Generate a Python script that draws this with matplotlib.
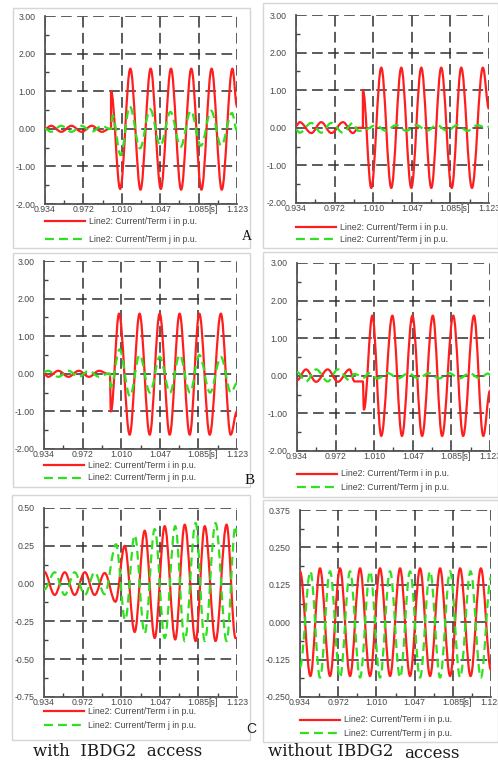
import numpy as np
import matplotlib
matplotlib.use("Agg")
import matplotlib.pyplot as plt
from matplotlib.path import Path
from matplotlib.patches import PathPatch, Rectangle
from matplotlib.lines import Line2D

W, H = 498, 762

# time axis (s)
x_ticks = [0.934, 0.9718, 1.0096, 1.0474, 1.0852, 1.123]
x_labels = ["0.934", "0.972", "1.010", "1.047", "1.085", "1.123"]
x_minor = [0.9529, 0.9907, 1.0285, 1.0663, 1.1041]

# y scales
big_ticks = [-2.0, -1.0, 0.0, 1.0, 2.0, 3.0]
big_labels = ["-2.00", "-1.00", "0.00", "1.00", "2.00", "3.00"]
big_minor = [-1.5, -0.5, 0.5, 1.5, 2.5]
c_ticks = [-0.75, -0.5, -0.25, 0.0, 0.25, 0.5]
c_labels = ["-0.75", "-0.50", "-0.25", "0.00", "0.25", "0.50"]
c_minor = [-0.625, -0.375, -0.125, 0.125, 0.375]
cp_ticks = [-0.25, -0.125, 0.0, 0.125, 0.25, 0.375]
cp_labels = ["-0.250", "-0.125", "0.000", "0.125", "0.250", "0.375"]
cp_minor = [-0.1875, -0.0625, 0.0625, 0.1875, 0.3125]

# waveform turning points (time, p.u.) for current at term i (red) and term j (green)
a_red_t = [0.934, 0.940, 0.950, 0.960, 0.970, 0.980, 0.990, 0.9975, 0.999, 0.999,
           1.008, 1.018, 1.028, 1.038, 1.048, 1.058, 1.068, 1.078, 1.088, 1.098, 1.108, 1.1185, 1.123]
a_red_v = [0.0, 0.08, -0.08, 0.08, -0.08, 0.08, -0.08, 0.0, 0.0, 1.0,
           -1.6, 1.6, -1.62, 1.6, -1.6, 1.6, -1.62, 1.6, -1.62, 1.6, -1.62, 1.6, 0.6]
a_grn_t = [0.934, 0.940, 0.950, 0.960, 0.970, 0.980, 0.990, 0.9975, 0.999, 1.0005,
           1.0085, 1.0175, 1.0275, 1.0375, 1.0475, 1.0575, 1.0675, 1.0775, 1.0875, 1.0975, 1.1075, 1.118, 1.123]
a_grn_v = [0.0, -0.08, 0.08, -0.08, 0.08, -0.08, 0.08, 0.0, 0.0, 0.35,
           -0.70, 0.60, -0.52, 0.52, -0.45, 0.45, -0.48, 0.48, -0.45, 0.48, -0.45, 0.42, -0.05]

ap_red_t = [0.934, 0.9376, 0.9490, 0.9587, 0.9686, 0.980, 0.9898, 0.995, 0.9995, 0.9995,
            1.0077, 1.0175, 1.0273, 1.0371, 1.0469, 1.0567, 1.0665, 1.0762, 1.0865, 1.0958, 1.1063, 1.1170, 1.123]
ap_red_v = [0.05, 0.15, -0.14, 0.15, -0.14, 0.15, -0.14, 0.0, 0.0, 1.0,
            -1.6, 1.6, -1.6, 1.6, -1.6, 1.6, -1.6, 1.6, -1.6, 1.6, -1.6, 1.6, 0.5]
ap_grn_t = [0.934, 0.9376, 0.9490, 0.9587, 0.9686, 0.980, 0.9898, 0.995, 0.9995, 1.003,
            1.012, 1.022, 1.032, 1.042, 1.052, 1.062, 1.072, 1.082, 1.092, 1.102, 1.112, 1.120, 1.123]
ap_grn_v = [-0.05, -0.13, 0.13, -0.13, 0.13, -0.13, 0.13, -0.08, -0.08, -0.03,
            0.07, -0.08, 0.07, -0.08, 0.07, -0.08, 0.07, -0.08, 0.07, -0.08, 0.07, 0.0, 0.03]

b_red_t = [0.934, 0.938, 0.948, 0.958, 0.968, 0.978, 0.988, 0.9965, 0.9985, 0.9995,
           1.0075, 1.0179, 1.0276, 1.0375, 1.0473, 1.0571, 1.0668, 1.0767, 1.0861, 1.0963, 1.1072, 1.1168, 1.123]
b_red_v = [0.0, -0.08, 0.08, -0.08, 0.08, -0.08, 0.08, 0.0, 0.0, -1.0,
           1.6, -1.62, 1.6, -1.62, 1.6, -1.62, 1.6, -1.62, 1.6, -1.62, 1.6, -1.62, -1.0]
b_grn_t = [0.934, 0.938, 0.948, 0.958, 0.968, 0.978, 0.988, 0.9965, 0.9985, 0.9995,
           1.0080, 1.0182, 1.0276, 1.0378, 1.0473, 1.0574, 1.0668, 1.0770, 1.0861, 1.0966, 1.1072, 1.1171, 1.123]
b_grn_v = [0.05, 0.08, -0.08, 0.08, -0.08, 0.08, -0.08, 0.0, 0.0, -0.35,
           0.65, -0.6, 0.5, -0.5, 0.45, -0.5, 0.5, -0.5, 0.5, -0.5, 0.45, -0.5, -0.25]

bp_red_t = [0.934, 0.9428, 0.9527, 0.9641, 0.974, 0.9855, 0.9903, 0.9985, 0.9995,
            1.0078, 1.0165, 1.0274, 1.0368, 1.0470, 1.0565, 1.0670, 1.0761, 1.0870, 1.0967, 1.1073, 1.1164, 1.123]
bp_red_v = [-0.12, 0.17, -0.16, 0.17, -0.16, 0.17, -0.15, -0.15, -0.9,
            1.6, -1.6, 1.6, -1.6, 1.6, -1.6, 1.6, -1.6, 1.6, -1.6, 1.6, -1.6, -0.4]
bp_grn_t = [0.934, 0.9428, 0.9527, 0.9641, 0.974, 0.9855, 0.9903, 0.9995, 1.004, 1.013,
            1.023, 1.033, 1.043, 1.053, 1.063, 1.073, 1.083, 1.093, 1.103, 1.113, 1.121, 1.123]
bp_grn_v = [0.1, -0.15, 0.17, -0.15, 0.17, -0.12, 0.05, -0.05, 0.07, -0.07,
            0.07, -0.07, 0.07, -0.07, 0.07, -0.07, 0.07, -0.07, 0.07, -0.07, 0.06, 0.03]

c_red_t = [0.934, 0.9445, 0.9543, 0.964, 0.974, 0.9836, 0.9934, 1.004, 1.013, 1.0228,
           1.0326, 1.0424, 1.0522, 1.0625, 1.0718, 1.0825, 1.0914, 1.1020, 1.1128, 1.1215, 1.123]
c_red_v = [0.08, -0.075, 0.075, -0.075, 0.075, -0.075, 0.07, -0.12, 0.25, -0.32,
           0.35, -0.36, 0.38, -0.37, 0.39, -0.38, 0.38, -0.38, 0.39, -0.36, -0.36]
c_grn_t = [0.934, 0.9445, 0.9543, 0.964, 0.974, 0.9836, 0.9934, 1.0045, 1.0135, 1.0228,
           1.0326, 1.0424, 1.0522, 1.0625, 1.0718, 1.0825, 1.0914, 1.1020, 1.1128, 1.1215, 1.123]
c_grn_v = [-0.04, 0.075, -0.075, 0.075, -0.075, 0.075, -0.07, 0.26, -0.24, 0.32,
           -0.33, 0.36, -0.36, 0.38, -0.38, 0.40, -0.38, 0.40, -0.38, 0.38, 0.33]

cp_red_t = [0.934, 0.9443, 0.9538, 0.9637, 0.9736, 0.9835, 0.9934, 1.0033, 1.0132, 1.0231,
            1.0330, 1.0429, 1.0528, 1.0627, 1.0726, 1.0825, 1.0924, 1.1028, 1.1130, 1.123]
cp_red_v = [0.17, -0.18, 0.18, -0.18, 0.18, -0.18, 0.18, -0.18, 0.18, -0.18,
            0.18, -0.18, 0.18, -0.18, 0.18, -0.18, 0.18, -0.18, 0.18, -0.16]
cp_grn_t = [0.934, 0.9443, 0.9538, 0.9637, 0.9736, 0.9835, 0.9934, 1.0033, 1.0132, 1.0231,
            1.0330, 1.0429, 1.0528, 1.0627, 1.0726, 1.0825, 1.0924, 1.1028, 1.1130, 1.123]
cp_grn_v = [-0.15, 0.17, -0.185, 0.17, -0.185, 0.17, -0.185, 0.17, -0.185, 0.17,
            -0.185, 0.17, -0.185, 0.17, -0.185, 0.17, -0.185, 0.17, -0.185, 0.15]

RED = "#ff1e1e"
GREEN = "#2ee01e"
GRID = "#2f2f2f"
TXT = "#474747"
LABEL_FONT = ["Liberation Sans", "DejaVu Sans"]
SERIF = ["DejaVu Serif", "Liberation Serif"]
FS = 6.3

plt.rcParams["font.family"] = LABEL_FONT
fig = plt.figure(figsize=(W / 100, H / 100), dpi=100)
fig.patch.set_facecolor("white")


def fx(px):
    return px / W


def fy(py):
    return 1 - py / H


def wave_path(ts, vs):
    # smooth half-wave between successive turning points, horizontal tangents at each
    verts = [(ts[0], vs[0])]
    codes = [Path.MOVETO]
    for i in range(1, len(ts)):
        t0, t1, v0, v1 = ts[i - 1], ts[i], vs[i - 1], vs[i]
        h = t1 - t0
        verts += [(t0 + 0.363 * h, v0), (t1 - 0.363 * h, v1), (t1, v1)]
        codes += [Path.CURVE4] * 3
    return Path(verts, codes)


def panel(box, frame, legend_y, red_t, red_v, grn_t, grn_v, yt, yl, ym):
    left, top, right, bottom = box
    fl, ft, fr, fb = frame
    fig.add_artist(Rectangle((fx(fl), fy(fb)), fx(fr - fl), (fb - ft) / H,
                             transform=fig.transFigure, fill=False,
                             ec="#d6d6d6", lw=1.0))
    ax = fig.add_axes([fx(left), fy(bottom), fx(right - left), (bottom - top) / H])
    ax.set_xlim(x_ticks[0], x_ticks[-1])
    ax.set_ylim(yt[0], yt[-1])

    ax.add_patch(PathPatch(wave_path(red_t, red_v), fill=False, ec=RED, lw=1.6,
                           joinstyle="round", zorder=3))
    ax.add_patch(PathPatch(wave_path(grn_t, grn_v), fill=False, ec=GREEN, lw=1.6,
                           linestyle=(0, (4.0, 2.3)), zorder=4))

    ax.set_xticks(x_ticks)
    ax.set_xticklabels(x_labels)
    ax.set_xticks(x_minor, minor=True)
    ax.set_yticks(yt)
    ax.set_yticklabels(yl)
    ax.set_yticks(ym, minor=True)
    ax.tick_params(which="major", length=0, labelsize=FS, labelcolor=TXT)
    ax.tick_params(axis="y", which="major", pad=7)
    ax.tick_params(axis="x", which="major", pad=1)
    ax.tick_params(which="minor", direction="in", length=3, width=1.0, color="#444444")
    ax.grid(True, which="major", color=GRID, lw=1.1, linestyle=(0, (7, 3.5)))
    for s in ("left", "bottom"):
        ax.spines[s].set_color("#555555")
        ax.spines[s].set_linewidth(1.3)
    for s in ("top", "right"):
        ax.spines[s].set_visible(False)

    ax.annotate("[s]", xy=(1.0995, 0), xycoords=("data", "axes fraction"),
                xytext=(0, -0.6), textcoords="offset points", ha="center", va="top",
                fontsize=FS, color=TXT)

    # legend rows
    x0 = left
    for (ly, col, ls, lab) in ((legend_y[0], RED, "-", "Line2: Current/Term i in p.u."),
                               (legend_y[1], GREEN, (0, (4.0, 2.3)), "Line2: Current/Term j in p.u.")):
        fig.add_artist(Line2D([fx(x0), fx(x0 + 40)], [fy(ly), fy(ly)], transform=fig.transFigure,
                              color=col, lw=1.6, linestyle=ls))
        fig.text(fx(x0 + 44), fy(ly), lab, fontsize=FS, color=TXT, va="center", ha="left")
    return ax


panel((45, 16, 237, 204), (13, 8, 250, 248), (221, 239),
      a_red_t, a_red_v, a_grn_t, a_grn_v, big_ticks, big_labels, big_minor)
panel((296, 15, 489, 203), (263, 3, 498, 248), (227, 239),
      ap_red_t, ap_red_v, ap_grn_t, ap_grn_v, big_ticks, big_labels, big_minor)
panel((44, 261, 237, 449), (13, 253, 250, 487), (465, 478),
      b_red_t, b_red_v, b_grn_t, b_grn_v, big_ticks, big_labels, big_minor)
panel((297, 263, 490, 451), (263, 252, 498, 497), (474, 487),
      bp_red_t, bp_red_v, bp_grn_t, bp_grn_v, big_ticks, big_labels, big_minor)
panel((44, 508, 237, 697), (12, 495, 250, 740), (711, 725),
      c_red_t, c_red_v, c_grn_t, c_grn_v, c_ticks, c_labels, c_minor)
panel((300, 510, 491, 697), (263, 500, 498, 742), (720, 733),
      cp_red_t, cp_red_v, cp_grn_t, cp_grn_v, cp_ticks, cp_labels, cp_minor)

# case letters and column captions
fig.text(fx(247), fy(237), "A", fontsize=10, family=["Liberation Serif", "DejaVu Serif"],
         ha="center", va="center", color="#111111")
fig.text(fx(250), fy(480), "B", fontsize=11, family=["Liberation Serif", "DejaVu Serif"],
         ha="center", va="center", color="#111111")
fig.text(fx(251), fy(729), "C", fontsize=10, family=LABEL_FONT,
         ha="center", va="center", color="#222222")
fig.text(fx(118), fy(751), "with  IBDG2  access", fontsize=12,
         family=SERIF, ha="center", va="center", color="#1a1a1a")
fig.text(fx(268), fy(751), "without IBDG2", fontsize=12,
         family=SERIF, ha="left", va="center", color="#1a1a1a")
fig.text(fx(460), fy(754), "access", fontsize=12,
         family=SERIF, ha="right", va="center", color="#1a1a1a")

fig.savefig("out.png", dpi=100, facecolor="white")
